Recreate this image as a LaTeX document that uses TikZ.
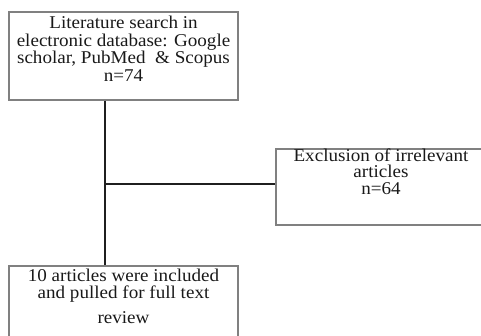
\documentclass[tikz,border=0pt]{standalone}
\usepackage{fontspec}
\setmainfont{Liberation Serif}[FakeStretch=1.06]
\begin{document}
\begin{tikzpicture}[x=1pt,y=-1pt,
  box/.style={draw=black!50, line width=1.1pt, inner sep=0pt, fill=none},
  txt/.style={inner sep=0pt, anchor=base, font=\fontsize{18}{18}\selectfont, text=black!90},
  conn/.style={draw=black!88, line width=1.8pt}]
\useasboundingbox (0,0) rectangle (481,335);
\clip (0,0) rectangle (481,335);
% boxes
\node[box, minimum width=229pt, minimum height=88pt] (top) at (123.5,56) {};
\node[box, minimum width=214pt, minimum height=76pt] (exc) at (383,187) {};
\node[box, minimum width=229pt, minimum height=90pt] (bot) at (123.5,311) {};
% texts
\node[txt] (t1) at (123.5,28) {Literature search in};
\node[txt] (t2) at (123.5,46) {electronic database: Google};
\node[txt] (t3) at (123.5,63.5) {scholar, PubMed \ \& Scopus};
\node[txt] (t4) at (123.5,81) {n=74};
\node[txt] (e1) at (381,161) {Exclusion of irrelevant};
\node[txt] (e2) at (381,177.5) {articles};
\node[txt] (e3) at (381,194) {n=64};
\node[txt] (b1) at (123.5,281) {10 articles were included};
\node[txt] (b2) at (123.5,298.5) {and pulled for full text};
\node[txt] (b3) at (123.5,323) {review};
% connectors
\coordinate (vx) at (105,0);
\coordinate (j) at (105,184);
\draw[conn] (top.south -| vx) -- (bot.north -| vx);
\draw[conn, line width=1.5pt] (j) -- (j -| exc.west);
\end{tikzpicture}
\end{document}
